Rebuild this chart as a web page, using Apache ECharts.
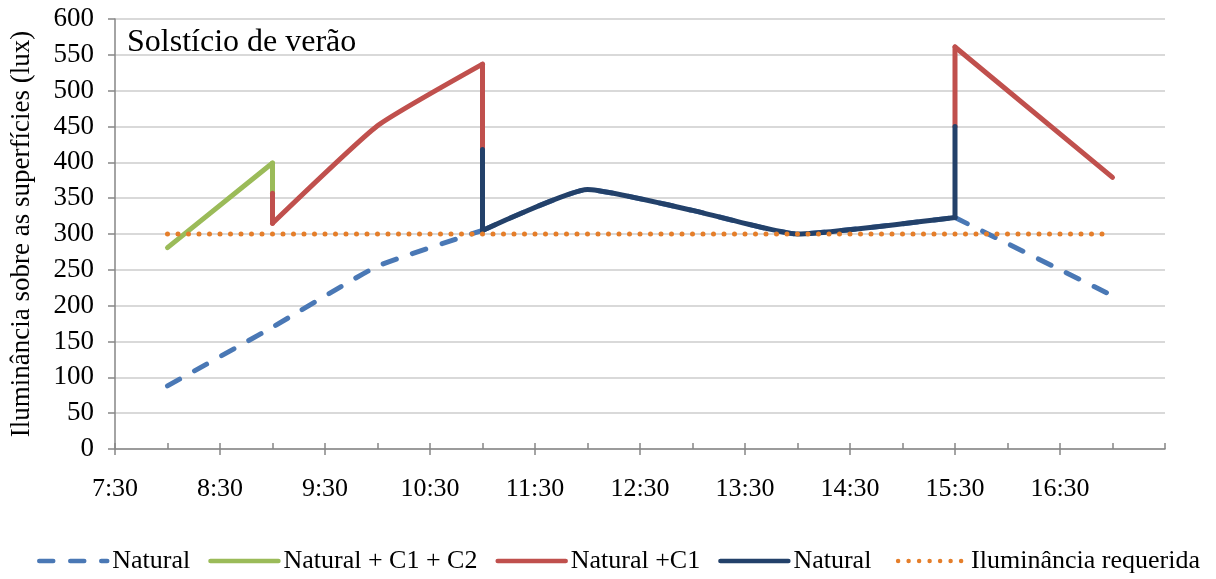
<!DOCTYPE html>
<html>
<head>
<meta charset="utf-8">
<script src="https://cdn.jsdelivr.net/npm/echarts@6/dist/echarts.min.js"></script>
<style>
  html, body { margin: 0; padding: 0; background: #ffffff; }
  #chart { width: 1216px; height: 579px; }
</style>
</head>
<body>
<div id="chart"></div>
<script>
// ---- Data (hours as decimal numbers, illuminance in lux) ----
const yTicks = [0, 50, 100, 150, 200, 250, 300, 350, 400, 450, 500, 550, 600];
const xTickLabels = ['7:30', '8:30', '9:30', '10:30', '11:30', '12:30', '13:30', '14:30', '15:30', '16:30'];

// Natural (dashed)
const naturalTimes = [8, 9, 10, 11, 12, 13, 14, 15.5, 17];
const naturalVals  = [88, 170, 255, 305, 362, 333, 300, 323, 214];

// Natural + C1 + C2
const c1c2Times = [8, 9];
const c1c2Vals  = [281, 399];

// Natural + C1 (two spans)
const c1TimesA = [9, 10, 11];
const c1ValsA  = [315, 451, 537];
const c1TimesB = [15.5, 17];
const c1ValsB  = [561, 379];

// Natural (solid)
const natSolidTimes = [11, 12, 13, 14, 15.5];
const natSolidVals  = [305, 362, 333, 300, 323];

// Switching steps (vertical jumps): time, upper part [from,to], lower part [from,to]
const stepTimes = [9, 11, 15.5];
const stepUpper = [[399, 357], [537, 418], [561, 450]];
const stepLower = [[357, 315], [418, 305], [450, 323]];

// Required illuminance
const requiredTimes = [8, 17];
const requiredVal = 300;

// ---- Styles ----
const FONT = 'Liberation Serif';
const C_BLUE = '#4a78b5';
const C_GREEN = '#9bbb59';
const C_RED = '#c0504d';
const C_NAVY = '#23416a';
const C_ORANGE = '#e57e2a';
const LW = 5;
const SMOOTH = 0.15;
const stepUpperColors = [C_GREEN, C_RED, C_RED];
const stepLowerColors = [C_RED, C_NAVY, C_NAVY];

function pairs(ts, vs) { return ts.map((t, i) => [t, vs[i]]); }

function lineSeries(name, data, color, extra) {
  const s = {
    name: name,
    type: 'line',
    data: data,
    symbol: 'none',
    showSymbol: false,
    smooth: SMOOTH,
    xAxisIndex: 0,
    lineStyle: { color: color, width: LW, cap: 'round', join: 'round' },
    itemStyle: { color: color, opacity: 0 },
    emphasis: { disabled: true, lineStyle: { width: LW } },
    silent: true
  };
  return Object.assign(s, extra || {});
}

const series = [];
// Natural dashed drawn in the same pieces as the other curves so that hidden parts coincide
const natPts = pairs(naturalTimes, naturalVals);
const iStart = naturalTimes.indexOf(natSolidTimes[0]);
const iEnd = naturalTimes.indexOf(natSolidTimes[natSolidTimes.length - 1]);
[natPts.slice(0, iStart + 1), natPts.slice(iStart, iEnd + 1), natPts.slice(iEnd)].forEach(function (seg) {
  series.push(lineSeries('Natural', seg, C_BLUE, {
    lineStyle: { color: C_BLUE, width: LW, type: [14, 17], cap: 'round', join: 'round' }
  }));
});
series.push(lineSeries('Natural + C1 + C2', pairs(c1c2Times, c1c2Vals), C_GREEN, { smooth: false }));
series.push(lineSeries('Natural +C1', pairs(c1TimesA, c1ValsA), C_RED));
series.push(lineSeries('Natural +C1', pairs(c1TimesB, c1ValsB), C_RED, { smooth: false }));
stepTimes.forEach((t, i) => {
  series.push(lineSeries('', [[t, stepUpper[i][0]], [t, stepUpper[i][1]]], stepUpperColors[i], { smooth: false }));
});
series.push(lineSeries('Natural ', pairs(natSolidTimes, natSolidVals), C_NAVY));
stepTimes.forEach((t, i) => {
  series.push(lineSeries('', [[t, stepLower[i][0]], [t, stepLower[i][1]]], stepLowerColors[i], { smooth: false }));
});
series.push(lineSeries('Iluminância requerida', requiredTimes.map(t => [t, requiredVal]), C_ORANGE, {
  smooth: false,
  lineStyle: { color: C_ORANGE, width: LW, type: [0, 10.5], cap: 'round' }
}));

const chart = echarts.init(document.getElementById('chart'), null, { renderer: 'canvas' });
chart.setOption({
  animation: false,
  backgroundColor: '#ffffff',
  textStyle: { fontFamily: FONT },
  title: {
    text: 'Solstício de verão',
    left: 122,
    top: 22,
    textStyle: { fontFamily: FONT, fontSize: 32, fontWeight: 'normal', color: '#000' }
  },
  grid: { left: 112, right: 51, top: 19, bottom: 130, containLabel: false },
  legend: {
    data: ['Natural', 'Natural + C1 + C2', 'Natural +C1', 'Natural ', 'Iluminância requerida'],
    left: 32,
    top: 543,
    itemWidth: 68,
    itemHeight: 14,
    itemGap: 18,
    itemStyle: { opacity: 0 },
    lineStyle: { width: 4.5 },
    textStyle: { fontFamily: FONT, fontSize: 26, color: '#000' },
    selectedMode: false
  },
  xAxis: [
    {
      type: 'value',
      min: 7.5,
      max: 17.5,
      interval: 1,
      axisLine: { show: true, lineStyle: { color: '#868686', width: 1.5 } },
      axisTick: { show: true, length: 6, lineStyle: { color: '#868686', width: 1.5 } },
      splitLine: { show: false },
      axisLabel: {
        showMaxLabel: false,
        margin: 27,
        fontFamily: FONT,
        fontSize: 26,
        color: '#000',
        formatter: function (v) {
          const idx = Math.round(v - 7.5);
          return xTickLabels[idx] !== undefined ? xTickLabels[idx] : '';
        }
      }
    },
    {
      type: 'value',
      position: 'bottom',
      min: 7.5,
      max: 17.5,
      interval: 0.5,
      axisLine: { show: false },
      axisTick: { show: true, inside: true, length: 6, lineStyle: { color: '#868686', width: 1.5 } },
      splitLine: { show: false },
      axisLabel: { show: false }
    }
  ],
  yAxis: {
    type: 'value',
    min: yTicks[0],
    max: yTicks[yTicks.length - 1],
    interval: yTicks[1] - yTicks[0],
    name: 'Iluminância sobre as superfícies (lux)',
    nameLocation: 'middle',
    nameGap: 80,
    nameTextStyle: { fontFamily: FONT, fontSize: 27, color: '#000' },
    axisLine: { show: true, lineStyle: { color: '#868686', width: 1.5 } },
    axisTick: { show: true, length: 7, lineStyle: { color: '#868686', width: 1.5 } },
    splitLine: { show: true, lineStyle: { color: '#d9d9d9', width: 2 } },
    axisLabel: { margin: 21, fontFamily: FONT, fontSize: 27, color: '#000' }
  },
  series: series
});
</script>
</body>
</html>
